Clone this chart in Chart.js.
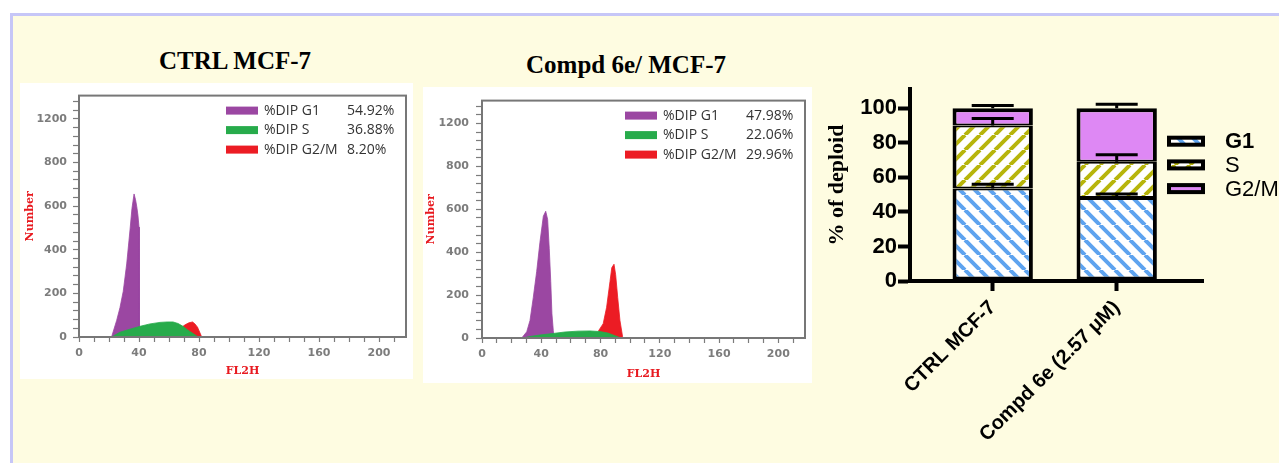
<!DOCTYPE html>
<html>
<head>
<meta charset="utf-8">
<script src="https://cdn.jsdelivr.net/npm/chart.js@4.4.0/dist/chart.umd.min.js"></script>
<style>
body{margin:0;width:1279px;height:463px;overflow:hidden;background:#fff;position:relative}
#frame{position:absolute;left:10px;top:13px;right:0;bottom:0;background:#fefce1;border-left:3px solid #c6c6f7;border-top:3px solid #c6c6f7}
.ttl{position:absolute;font:bold 25px "Liberation Serif",serif;line-height:25px;color:#000;text-align:center;white-space:nowrap}
canvas{position:absolute}
.hist{background:#fff}
</style>
</head>
<body>
<div id="frame"></div>
<div class="ttl" style="left:135px;top:48px;width:200px">CTRL MCF-7</div>
<div class="ttl" style="left:506px;top:52px;width:240px">Compd 6e/ MCF-7</div>
<canvas id="ctrl" class="hist" width="393" height="296" style="left:20px;top:83px"></canvas>
<canvas id="compd" class="hist" width="389" height="296" style="left:423px;top:87px"></canvas>
<canvas id="bars" width="464" height="388" style="left:815px;top:75px"></canvas>
<script>
// histogram axes
const fl2hTicks = ['0', '40', '80', '120', '160', '200'];
const numberTicks = ['0', '200', '400', '600', '800', '1200'];
const phaseNames = ['%DIP G1', '%DIP S', '%DIP G2/M'];
const ctrlPct = ['54.92%', '36.88%', '8.20%'];
const compdPct = ['47.98%', '22.06%', '29.96%'];

// [FL2H, number]
const ctrlG1 = [[21.7,0],[25.1,76],[27.3,134],[29.5,210],[31.8,335],[34,491],[35.3,589],[36.7,656],[37.7,629],[38.5,598],[39.3,558],[40,504],[40.3,49],[40.7,0]];
const ctrlS = [[21.7,0],[22.7,4],[27.3,22],[34,36],[40.7,49],[47.3,60],[54,67],[58.7,69],[62.7,69],[66,62],[69.3,49],[72.7,31],[76,16],[78.7,4],[80,0]];
const ctrlG2m = [[69.3,49],[71.3,58],[73.3,65],[75.7,69],[77.3,60],[79,45],[80.7,18],[81.8,0]];

const compdG1 = [[26.8,0],[30.2,29],[32.4,82],[34.6,188],[36.9,310],[39.1,446],[41.4,568],[43,591],[44.3,553],[45.4,416],[46.4,264],[47.2,113],[48.1,36],[48.6,0]];
const compdS = [[27.7,0],[32.4,7],[39.1,14],[47.9,21],[56,28],[64.8,32],[72.9,33],[79.6,30],[85,23],[89.7,11],[93.8,0]];
const compdG2m = [[78.5,32],[81.8,67],[84.1,143],[86.4,264],[87.6,328],[89.1,344],[90.2,295],[91.6,188],[93.1,82],[94.9,6],[95.5,0]];

// stacked bar chart
const categories = ['CTRL MCF-7', 'Compd 6e (2.57 μM)'];
const phases = ['G1', 'S', 'G2/M'];
const g1Mean = [53.5, 48];
const sMean = [36.5, 21];
const g2mMean = [10, 31];
const g1Err = [2.5, 2.3];
const sErr = [4, 4];
const g2mErr = [1.5, 2.3];
const pctTicks = [0, 20, 40, 60, 80, 100];

const histColors = ['#9b47a2', '#27ab4b', '#ec1c24'];

const framePlugin = {
  id: 'frame',
  afterDatasetsDraw(chart) {
    const a = chart.chartArea, c = chart.ctx;
    c.save();
    c.strokeStyle = '#777';
    c.lineWidth = 2;
    c.strokeRect(a.left, a.top, a.right - a.left, a.bottom - a.top);
    c.restore();
  }
};

const phaseLegend = {
  id: 'phaseLegend',
  afterDraw(chart, args, o) {
    const a = chart.chartArea, c = chart.ctx;
    c.save();
    c.font = '14px "Open Sans"';
    c.textBaseline = 'middle';
    o.names.forEach((n, i) => {
      const y = a.top + 15 + i * 19.5;
      c.fillStyle = histColors[i];
      c.fillRect(a.right - 180, y - 4, 32, 8);
      c.fillStyle = '#333';
      c.textAlign = 'left';
      c.fillText(n, a.right - 142, y);
      c.fillText(o.values[i], a.right - 59, y);
    });
    c.restore();
  }
};

function histChart(id, g1, s, g2m, pct, pad, xh, ypad, tpad) {
  const pts = a => a.map(p => ({x: p[0], y: p[1]}));
  const area = (d, col, order) => ({
    data: pts(d), backgroundColor: col, borderColor: col, borderWidth: 0.8,
    fill: 'origin', pointRadius: 0, tension: 0, order: order
  });
  const tickFont = {family: '"DejaVu Sans"', size: 11, weight: 'bold'};
  const titleFont = {family: '"DejaVu Serif"', size: 11, weight: 'bold'};
  return new Chart(document.getElementById(id), {
    type: 'line',
    data: {datasets: [area(s, histColors[1], 0), area(g1, histColors[0], 1), area(g2m, histColors[2], 2)]},
    options: {
      responsive: false,
      animation: false,
      layout: {padding: pad},
      plugins: {
        legend: {display: false},
        tooltip: {enabled: false},
        phaseLegend: {names: phaseNames, values: pct}
      },
      scales: {
        x: {
          type: 'linear', min: 0, max: 218,
          afterBuildTicks: sc => { sc.ticks = []; for (let v = 0; v <= 210; v += 10) sc.ticks.push({value: v}); },
          afterFit: sc => { sc.height = xh; },
          ticks: {autoSkip: false, maxRotation: 0, padding: 5, color: '#7c7c7c', font: tickFont,
                  callback: v => v % 40 === 0 ? fl2hTicks[v / 40] : ''},
          grid: {drawOnChartArea: false, tickLength: 5, tickColor: '#7c7c7c', tickWidth: 1.2},
          border: {display: false},
          title: {display: true, text: 'FL2H', color: '#e8191f', font: titleFont, padding: {top: 0, bottom: tpad[0]}}
        },
        y: {
          min: 0, max: 1107,
          afterBuildTicks: sc => { sc.ticks = []; for (let v = 0; v <= 1080; v += 40) sc.ticks.push({value: v}); },
          afterFit: sc => { sc.width = 59; },
          ticks: {autoSkip: false, padding: ypad, color: '#7c7c7c', font: tickFont,
                  callback: v => v % 200 === 0 ? numberTicks[v / 200] : ''},
          grid: {drawOnChartArea: false, tickLength: 6, tickColor: '#7c7c7c', tickWidth: 1.2},
          border: {display: false},
          title: {display: true, text: 'Number', color: '#e8191f', font: titleFont, padding: {top: tpad[1], bottom: 0}}
        }
      }
    },
    plugins: [framePlugin, phaseLegend]
  });
}

histChart('ctrl', ctrlG1, ctrlS, ctrlG2m, ctrlPct, {left: 0, right: 7, top: 6, bottom: 0}, 42, 6, [1.5, 3.4]);
histChart('compd', compdG1, compdS, compdG2m, compdPct, {left: 0, right: 7, top: 8, bottom: 0}, 45, 7, [2.4, 2]);

// hatch fills
function hatch(color, rising) {
  const n = 15;
  const cv = document.createElement('canvas');
  cv.width = n; cv.height = n;
  const g = cv.getContext('2d');
  g.fillStyle = '#fff';
  g.fillRect(0, 0, n, n);
  g.strokeStyle = color;
  g.lineWidth = 4;
  g.beginPath();
  for (let k = -1; k <= 1; k++) {
    if (rising) { g.moveTo(k * n, n); g.lineTo(k * n + n, 0); }
    else { g.moveTo(k * n, 0); g.lineTo(k * n + n, n); }
  }
  g.stroke();
  return g.createPattern(cv, 'repeat');
}

const errorBars = {
  id: 'errorBars',
  afterDatasetsDraw(chart, args, o) {
    const c = chart.ctx, y = chart.scales.y;
    c.save();
    c.strokeStyle = '#000';
    c.lineWidth = 3;
    chart.data.datasets.forEach((ds, di) => {
      chart.getDatasetMeta(di).data.forEach((bar, i) => {
        const e = y.getPixelForValue(0) - y.getPixelForValue(o.errors[di][i]);
        const top = bar.y, ye = bar.y - e;
        c.beginPath();
        c.moveTo(bar.x, top); c.lineTo(bar.x, ye);
        c.moveTo(bar.x - 21, ye); c.lineTo(bar.x + 21, ye);
        c.stroke();
      });
    });
    c.restore();
  }
};

const barLegend = {
  id: 'barLegend',
  afterDraw(chart) {
    const a = chart.chartArea, c = chart.ctx;
    c.save();
    c.textBaseline = 'middle';
    c.textAlign = 'left';
    chart.data.datasets.forEach((ds, i) => {
      const y = a.top + 52 + i * 23.7;
      c.fillStyle = '#000';
      c.fillRect(a.right - 36, y - 5.5, 38, 11);
      c.fillStyle = ds.backgroundColor;
      c.fillRect(a.right - 32, y - 1.5, 30, 3);
      c.fillStyle = '#000';
      c.font = (i === 0 ? 'bold ' : '') + '22px "Liberation Sans"';
      c.fillText(ds.label, a.right + 22, y + 1);
    });
    c.restore();
  }
};

const fills = [hatch('#5ea3ef', false), hatch('#b7b50b', true), '#de88f4'];
const means = [g1Mean, sMean, g2mMean];
const borders = [
  {left: 4, right: 4, top: 2, bottom: 4},
  {left: 4, right: 4, top: 2, bottom: 2},
  {left: 4, right: 4, top: 4, bottom: 2}
];

new Chart(document.getElementById('bars'), {
  type: 'bar',
  data: {
    datasets: phases.map((p, k) => ({
      label: p,
      data: categories.map((c, i) => ({x: i, y: means[k][i]})),
      backgroundColor: fills[k],
      borderColor: '#000',
      borderWidth: borders[k],
      borderSkipped: false,
      barPercentage: 0.81,
      categoryPercentage: 0.8
    }))
  },
  options: {
    responsive: false,
    animation: false,
    layout: {padding: {left: 0, right: 76, top: 10, bottom: 0}},
    plugins: {
      legend: {display: false},
      tooltip: {enabled: false},
      errorBars: {errors: [g1Err, sErr, g2mErr]}
    },
    scales: {
      x: {
        type: 'linear', stacked: true, offset: false, min: -0.667, max: 1.696,
        afterBuildTicks: sc => { sc.ticks = categories.map((c, i) => ({value: i})); },
        afterFit: sc => { sc.height = 182; },
        ticks: {autoSkip: false, minRotation: 45, maxRotation: 45, padding: 5, color: '#000',
                font: {family: '"Liberation Sans"', size: 20, weight: 'bold'},
                callback: v => categories[v]},
        grid: {offset: false, drawOnChartArea: false, tickLength: 10, tickWidth: 4, tickColor: '#000'},
        border: {color: '#000', width: 4}
      },
      y: {
        stacked: true, min: 0, max: 111,
        afterBuildTicks: sc => { sc.ticks = pctTicks.map(v => ({value: v})); },
        afterFit: sc => { sc.width = 95; },
        ticks: {padding: 1, color: '#000',
                font: {family: '"Liberation Sans"', size: 22, weight: 'bold'}},
        grid: {drawOnChartArea: false, tickLength: 12, tickWidth: 4, tickColor: '#000'},
        border: {color: '#000', width: 4},
        title: {display: true, text: '% of deploid', color: '#000',
                font: {family: '"Liberation Serif"', size: 22, weight: 'bold'}, padding: {top: 9, bottom: 0}}
      }
    }
  },
  plugins: [errorBars, barLegend]
});
</script>
</body>
</html>
